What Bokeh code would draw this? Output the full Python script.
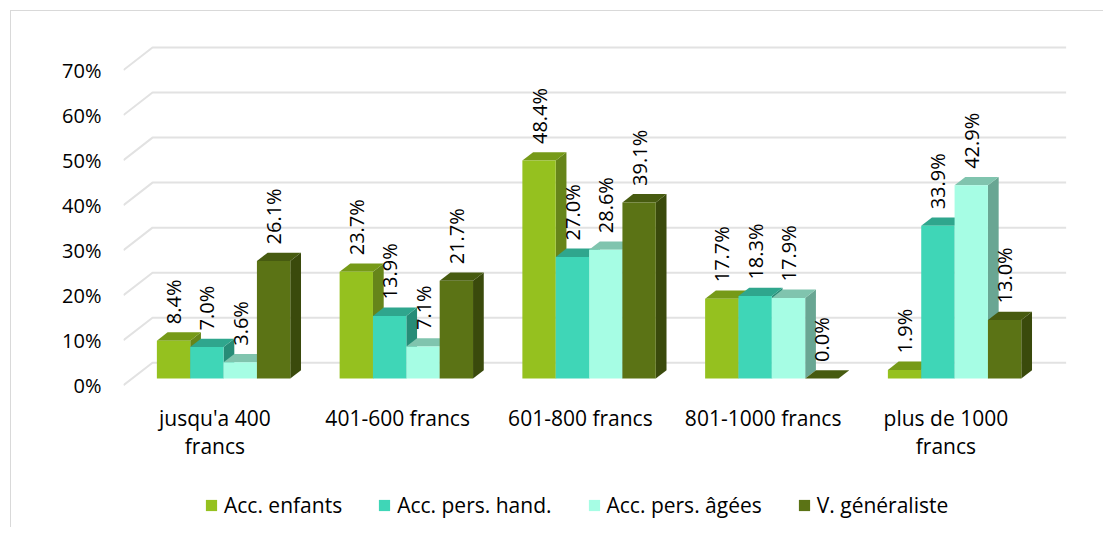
import math
from bokeh.plotting import figure
from bokeh.models import (Range1d, FixedTicker, PrintfTickFormatter, Legend,
                          LegendItem, ColumnDataSource)
from bokeh.core.properties import value
from bokeh.embed import file_html
from bokeh.resources import INLINE

# ---------------- data ----------------
categories = ["jusqu'a 400 francs", "401-600 francs", "601-800 francs",
              "801-1000 francs", "plus de 1000 francs"]
tick_labels = ["jusqu'a 400\nfrancs", "401-600 francs", "601-800 francs",
               "801-1000 francs", "plus de 1000\nfrancs"]
series = ["Acc. enfants", "Acc. pers. hand.", "Acc. pers. âgées", "V. généraliste"]
acc_enfants = [8.4, 23.7, 48.4, 17.7, 1.9]
acc_pers_hand = [7.0, 13.9, 27.0, 18.3, 33.9]
acc_pers_agees = [3.6, 7.1, 28.6, 17.9, 42.9]
v_generaliste = [26.1, 21.7, 39.1, 0.0, 13.0]
y_ticks = [0, 10, 20, 30, 40, 50, 60, 70]

values = [acc_enfants, acc_pers_hand, acc_pers_agees, v_generaliste]

# ---------------- style ----------------
front_colors = ["#95c11f", "#3fd6b7", "#a6fde4", "#5b7315"]
top_colors = ["#769a18", "#2fa68d", "#80c4ae", "#475b10"]
side_colors = ["#66851a", "#278c77", "#69a693", "#3a4a0c"]
FONT_NAME = "Open Sans"
FONT = value(FONT_NAME)

FRAME_W = 943
X0, X1 = -0.5, 4.66
PXX = FRAME_W / (X1 - X0)
PXY = 358 / 79.5                 # px per percent
Y0, Y1 = -0.5, 79.0              # Y0 = floor front edge
FRAME_H = 498                    # frame also holds category labels + legend
Y_BOTTOM = Y1 - FRAME_H / PXY
DX = 29 / PXX          # full depth of the box (data units)
DY = 22.5 / PXY
F0 = 0.3               # bars' front position in depth
FD = 0.37              # bars' depth
BW = 0.1825            # bar width (category units)
GM = 0.135             # outer gap in a category

p = figure(frame_width=FRAME_W, frame_height=FRAME_H,
           output_backend="svg", toolbar_location=None,
           x_range=Range1d(X0, X1), y_range=Range1d(Y_BOTTOM, Y1),
           min_border_left=112, min_border_right=37,
           min_border_top=18, min_border_bottom=0)
p.margin = (10, 0, 0, 10)
p.outline_line_color = None
p.grid.visible = False
p.background_fill_color = "white"
p.border_fill_color = "white"
p.styles = {"border-left": "1px solid #d9d9d9", "border-top": "1px solid #d9d9d9"}

# back-wall gridlines with the slanted side-wall part
gxs = [[X0, X0 + DX, 4.5 + DX] for v in y_ticks]
gys = [[v, v + DY, v + DY] for v in y_ticks]
p.multi_line(gxs, gys, line_color="#e2e2e2", line_width=2)

# bars
front_renderers = []
for j, vals in enumerate(values):
    L = [i - 0.5 + GM + j * BW + F0 * DX for i in range(len(vals))]
    R = [l + BW for l in L]
    B = [F0 * DY for _ in vals]
    T = [v + F0 * DY for v in vals]
    ddx, ddy = FD * DX, FD * DY
    side_xs = [[r, r, r + ddx, r + ddx] for r in R]
    side_ys = [[b, t, t + ddy, b + ddy] for b, t in zip(B, T)]
    top_xs = [[l, r, r + ddx, l + ddx] for l, r in zip(L, R)]
    top_ys = [[t, t, t + ddy, t + ddy] for t in T]
    p.patches(side_xs, side_ys, fill_color=side_colors[j], line_color=None)
    p.patches(top_xs, top_ys, fill_color=top_colors[j], line_color=None)
    r = p.quad(left=L, right=R, bottom=B, top=T, fill_color=front_colors[j],
               line_color=None)
    front_renderers.append(r)
    src = ColumnDataSource(dict(
        x=[(l + rr) / 2 for l, rr in zip(L, R)],
        y=[t + 16.5 / PXY for t in T],
        text=["%.1f%%" % v for v in vals]))
    p.text(x="x", y="y", text="text", source=src, angle=math.pi / 2,
           text_align="left", text_baseline="middle", text_font=FONT,
           text_font_size="20px", text_color="#000000")

# category labels under the floor (placed on the category scale)
cat_src = ColumnDataSource(dict(x=list(range(len(categories))),
                                y=[Y0 - 16 / PXY] * len(categories),
                                text=tick_labels))
p.text(x="x", y="y", text="text", source=cat_src, text_align="center",
       text_baseline="top", text_font=FONT, text_font_size="21px",
       text_line_height=1.0, text_color="#000000")

# axes
p.xaxis.visible = False
p.yaxis.ticker = FixedTicker(ticks=y_ticks)
p.yaxis.formatter = PrintfTickFormatter(format="%d%%")
p.yaxis.axis_line_color = None
p.yaxis.major_tick_line_color = None
p.yaxis.minor_tick_line_color = None
p.yaxis.major_tick_out = 0
p.yaxis.major_tick_in = 0
p.yaxis.major_label_standoff = 22
p.yaxis.major_label_text_font = FONT_NAME
p.yaxis.major_label_text_font_size = "20px"
p.yaxis.major_label_text_color = "#000000"

legend = Legend(items=[LegendItem(label=series[j], renderers=[front_renderers[j]])
                       for j in range(len(series))],
                orientation="horizontal", location=(81, 8),
                glyph_width=14, glyph_height=14, label_standoff=6, spacing=35,
                label_text_font=FONT_NAME, label_text_font_size="21px",
                label_text_color="#000000", border_line_color=None,
                background_fill_alpha=0, padding=0, margin=0)
p.add_layout(legend, "center")

open("out.html", "w").write(file_html(p, INLINE))
